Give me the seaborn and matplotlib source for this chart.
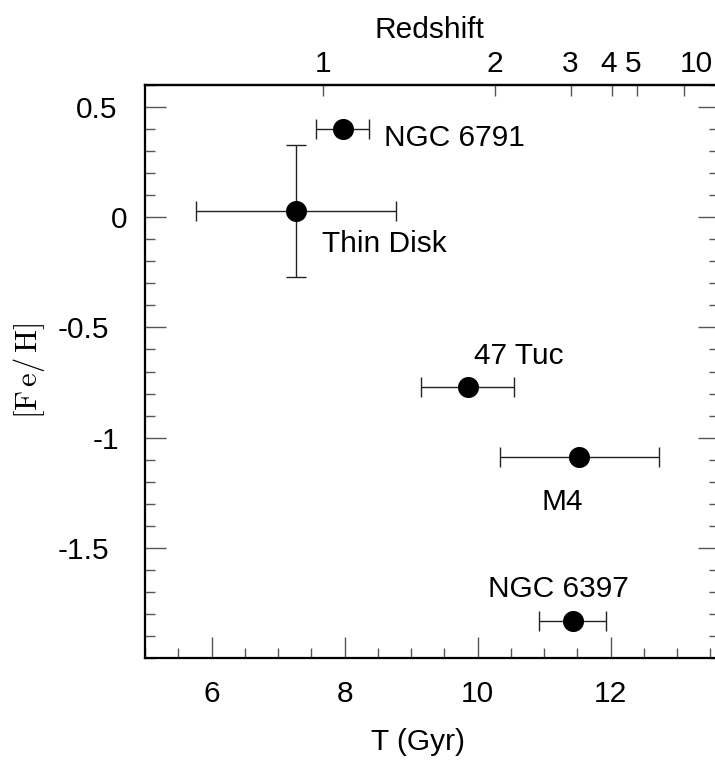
import matplotlib
matplotlib.use("Agg")
import matplotlib.pyplot as plt
import matplotlib.transforms as mtransforms
import seaborn as sns
import pandas as pd
import numpy as np

names = ["NGC 6791", "Thin Disk", "47 Tuc", "M4", "NGC 6397"]
age = [7.97, 7.27, 9.85, 11.53, 11.43]
age_err = [0.4, 1.5, 0.7, 1.2, 0.5]
feh = [0.40, 0.03, -0.77, -1.09, -1.83]
feh_err = [0.0, 0.30, 0.0, 0.0, 0.0]
# label offsets (dx, dy) in data units and horizontal alignment
label_offsets = [(0.62, -0.04, "left"), (0.39, -0.15, "left"), (0.1, 0.14, "left"),
                 (-0.26, -0.20, "center"), (-0.21, 0.145, "center")]

y_ticks = [0.5, 0, -0.5, -1, -1.5]
y_ticklabels = ["0.5", "0", "-0.5", "-1", "-1.5"]
x_ticks = [6, 8, 10, 12]

z_labels = ["1", "2", "3", "4", "5", "10"]
z_pos = [7.68, 10.26, 11.41, 12.02, 12.39, 13.11]

# horizontal nudges (pixels) of tick labels, as placed in the original
y_label_shift_px = [0, 10.4, -7.6, 2.5, -7.6]
z_label_shift_px = [0, 0, -1, -3.5, -3, 12]

sns.set_theme(style="ticks")
plt.rcParams['font.family'] = ['Liberation Sans', 'DejaVu Sans']
plt.rcParams['mathtext.fontset'] = 'cm'
plt.rcParams['text.color'] = 'black'
plt.rcParams['axes.labelcolor'] = 'black'
plt.rcParams['xtick.labelcolor'] = 'black'
plt.rcParams['ytick.labelcolor'] = 'black'

FS = 21.5
DPI = 100

df = pd.DataFrame({"name": names, "T": age, "Terr": age_err, "feh": feh, "feherr": feh_err})

fig = plt.figure(figsize=(7.15, 7.62), dpi=DPI)
# the right spine of the original lies just beyond the picture edge
ax = fig.add_axes([145/715, 1-658/762, (719-145)/715, (658-85)/762])

ax.errorbar(df["T"], df["feh"], xerr=df["Terr"], yerr=df["feherr"], fmt="none",
            ecolor="#222222", elinewidth=1.0, capsize=7, capthick=1.0, zorder=2)
sns.scatterplot(data=df, x="T", y="feh", ax=ax, s=230, color="black",
                edgecolor="black", linewidth=0, zorder=3, legend=False)

for n, x, y, (dx, dy, ha) in zip(names, age, feh, label_offsets):
    ax.text(x + dx, y + dy, n, fontsize=FS, ha=ha, va="center", color="black")

ax.set_xlim(5, 13.63)
ax.set_ylim(-2.0, 0.6)
ax.set_xticks(x_ticks)
ax.set_xticks(np.arange(5, 13.6, 0.5), minor=True)
ax.set_yticks(y_ticks)
ax.set_yticklabels(y_ticklabels)
ax.set_yticks(np.arange(-2.0, 0.61, 0.1), minor=True)

ax.tick_params(axis="both", which="major", direction="in", length=15, width=1.0,
               color="#555555", labelsize=FS, top=False, right=True)
ax.tick_params(axis="both", which="minor", direction="in", length=7, width=1.0,
               color="#555555", top=False, right=True)
ax.tick_params(axis="x", which="major", pad=16)
ax.tick_params(axis="y", which="major", pad=20)

ax.set_xlabel("T (Gyr)", fontsize=FS, labelpad=14)
ax.xaxis.label.set_x(0.476)
ax.set_ylabel(r"$\mathrm{[F\,e/\,H]}$", fontsize=22)
ax.yaxis.set_label_coords(-0.1705, 0.5)

for s in ax.spines.values():
    s.set_linewidth(1.6)
    s.set_color("black")

top = ax.secondary_xaxis("top")
top.set_xticks(z_pos)
top.set_xticklabels(z_labels)
top.tick_params(direction="in", length=8, width=1.0, color="#555555", labelsize=FS, pad=5)
top.tick_params(which="minor", length=0)
top.set_xlabel("Redshift", fontsize=FS, labelpad=9)
top.xaxis.label.set_x(0.496)
top.spines["top"].set_linewidth(1.6)


def nudge(ticks, shifts):
    for tk, sh in zip(ticks, shifts):
        off = mtransforms.ScaledTranslation(sh / DPI, 0, fig.dpi_scale_trans)
        for lab in (tk.label1, tk.label2):
            lab.set_transform(lab.get_transform() + off)


nudge(ax.yaxis.get_major_ticks(), y_label_shift_px)
nudge(top.xaxis.get_major_ticks(), z_label_shift_px)

fig.savefig("out.png", dpi=DPI)
